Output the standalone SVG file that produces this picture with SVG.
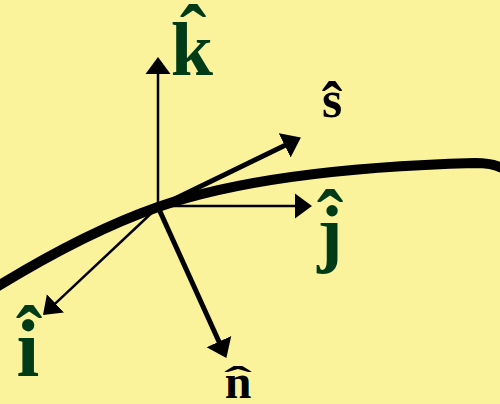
<svg xmlns="http://www.w3.org/2000/svg" width="500" height="404" viewBox="0 0 500 404">
<style>
.ax{stroke:#000;stroke-width:2.5;fill:none}
.th{stroke:#000;stroke-width:5;fill:none}
.lbl{font-family:"Liberation Serif","Times New Roman",serif;font-weight:bold}
.g{fill:#003B17}
.b{fill:#000}
</style>
<defs>
<marker id="ah" markerUnits="userSpaceOnUse" viewBox="0 -13 17 26" refX="4" refY="0" markerWidth="17" markerHeight="26" orient="auto">
<path d="M0,-12.5 L17,0 L0,12.5 z" fill="#000"/>
</marker>
<marker id="ahb" markerUnits="userSpaceOnUse" viewBox="0 -14 18 28" refX="4" refY="0" markerWidth="18" markerHeight="28" orient="auto">
<path d="M0,-13.5 L18,0 L0,13.5 z" fill="#000"/>
</marker>
</defs>
<rect width="500" height="404" fill="#FBF39C"/>
<g id="curve">
<path d="M-5,288 C60,248 115,222 158,207 C230,182 330,167 475,163 Q492,163 502,168" stroke="#000" stroke-width="10" fill="none"/>
</g>
<g id="connectors">
<line class="ax" x1="158" y1="207" x2="158" y2="70" marker-end="url(#ah)"/>
<line class="ax" x1="158" y1="206" x2="299" y2="206" marker-end="url(#ah)"/>
<line class="ax" x1="158" y1="207" x2="52.5" y2="306.1" marker-end="url(#ah)"/>
<line class="th" x1="158" y1="207" x2="288.3" y2="143.7" marker-end="url(#ahb)"/>
<line class="th" x1="158" y1="207" x2="220.6" y2="345.2" marker-end="url(#ahb)"/>
</g>
<g id="k-label">
<text class="lbl g" x="192" y="75" font-size="76" text-anchor="middle">k</text>
<text class="lbl g" x="193" y="61" font-size="80" text-anchor="middle">ˆ</text>
</g>
<g id="j-label">
<text class="lbl g" x="330" y="258" font-size="76" text-anchor="middle">j</text>
<text class="lbl g" x="330" y="246" font-size="80" text-anchor="middle">ˆ</text>
</g>
<g id="i-label">
<text class="lbl g" x="28" y="376" font-size="82" text-anchor="middle">i</text>
<text class="lbl g" x="29" y="362" font-size="80" text-anchor="middle">ˆ</text>
</g>
<g id="s-label">
<text class="lbl b" x="332" y="117" font-size="52" text-anchor="middle">s</text>
<text class="lbl b" x="332" y="125" font-size="62" text-anchor="middle">ˆ</text>
</g>
<g id="n-label">
<text class="lbl b" x="238" y="398" font-size="48" text-anchor="middle">n</text>
<text class="lbl b" x="0" y="0" font-size="60" text-anchor="middle" transform="translate(238,392) scale(1.4,0.6)">ˆ</text>
</g>
</svg>
